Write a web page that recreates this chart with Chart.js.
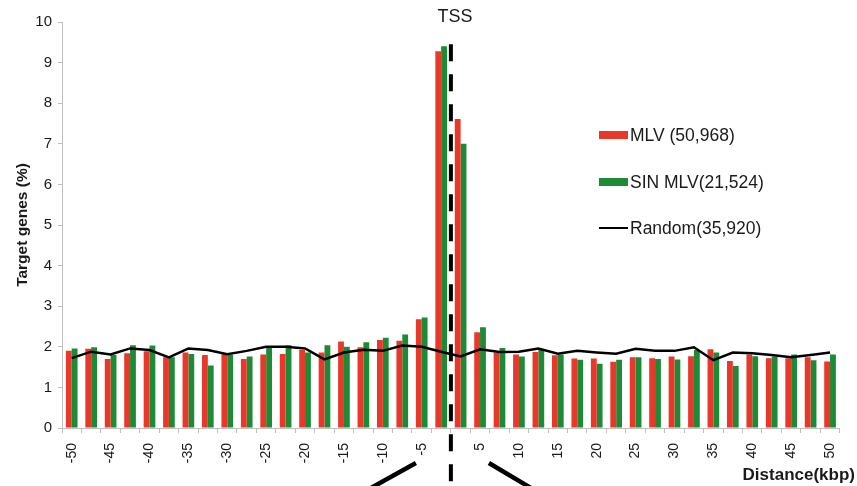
<!DOCTYPE html>
<html>
<head>
<meta charset="utf-8">
<title>Target genes around TSS</title>
<script src="https://cdn.jsdelivr.net/npm/chart.js@4.4.1/dist/chart.umd.min.js"></script>
<style>
  html, body { margin: 0; padding: 0; background: #fff; }
  #wrap { width: 857px; height: 486px; }
</style>
</head>
<body>
<div id="wrap"><canvas id="tssChart" width="857" height="486"></canvas></div>
<script>
'use strict';

/* ── DATA ─────────────────────────────────────────────────── */
const distances = [
  -50, -47.5, -45, -42.5, -40, -37.5, -35, -32.5, -30, -27.5,
  -25, -22.5, -20, -17.5, -15, -12.5, -10, -7.5, -5, -2.5,
  2.5, 5, 7.5, 10, 12.5, 15, 17.5, 20, 22.5, 25,
  27.5, 30, 32.5, 35, 37.5, 40, 42.5, 45, 47.5, 50
];

const tickLabels = ['-50', '-45', '-40', '-35', '-30', '-25', '-20', '-15', '-10', '-5',
                    '5', '10', '15', '20', '25', '30', '35', '40', '45', '50'];

const mlv = [
  1.90, 1.95, 1.70, 1.84, 1.89, 1.74, 1.86, 1.80, 1.84, 1.70,
  1.81, 1.82, 1.92, 1.86, 2.13, 1.99, 2.17, 2.15, 2.68, 9.28,
  7.61, 2.36, 1.86, 1.81, 1.87, 1.79, 1.71, 1.71, 1.63, 1.74,
  1.72, 1.76, 1.77, 1.94, 1.65, 1.81, 1.72, 1.72, 1.74, 1.64
];

const sinMlv = [
  1.96, 1.99, 1.80, 2.04, 2.03, 1.74, 1.82, 1.54, 1.80, 1.76,
  2.00, 2.04, 1.86, 2.04, 2.00, 2.11, 2.22, 2.30, 2.72, 9.40,
  7.00, 2.48, 1.97, 1.76, 1.92, 1.81, 1.68, 1.58, 1.68, 1.74,
  1.70, 1.69, 1.92, 1.86, 1.53, 1.77, 1.76, 1.81, 1.67, 1.81
];

const random = [
  1.72, 1.88, 1.81, 1.96, 1.92, 1.74, 1.96, 1.92, 1.82, 1.90,
  2.00, 2.00, 1.96, 1.69, 1.86, 1.93, 1.90, 2.03, 2.00, 1.88,
  1.76, 1.94, 1.87, 1.88, 1.96, 1.83, 1.90, 1.86, 1.83, 1.95,
  1.90, 1.90, 1.99, 1.67, 1.86, 1.84, 1.80, 1.74, 1.80, 1.86
];

const seriesNames = ['MLV (50,968)', 'SIN MLV(21,524)', 'Random(35,920)'];
const tssBetween  = [-2.5, 2.5];   // TSS sits between these two bins
const tssTop      = 9.45;          // dashed marker starts at this y value

/* ── STYLE ────────────────────────────────────────────────── */
const FONT   = "'Liberation Sans', Arial, Helvetica, sans-serif";
const RED    = '#E8382A';
const GREEN  = '#1D8B35';
const AXIS   = '#BFBFBF';
const TEXT   = '#1a1a1a';

/* ── ANNOTATIONS: TSS marker, legend, axis caption ───────── */
const tssMarks = {
  id: 'tssMarks',
  afterDraw(chart) {
    const { ctx, scales: { x, y } } = chart;
    const i  = distances.indexOf(tssBetween[0]);
    const tx = (x.getPixelForValue(i) + x.getPixelForValue(i + 1)) / 2;
    const H  = chart.height;

    ctx.save();
    ctx.strokeStyle = '#000';

    // dashed TSS line
    ctx.lineWidth = 4;
    ctx.setLineDash([17, 13]);
    ctx.beginPath();
    ctx.moveTo(tx, y.getPixelForValue(tssTop));
    ctx.lineTo(tx, H);
    ctx.stroke();
    ctx.setLineDash([]);

    // zoom-out wedge lines under the axis
    ctx.lineWidth = 4.5;
    ctx.beginPath();
    ctx.moveTo(tx - 35, 463);
    ctx.lineTo(tx - 80, H + 2);
    ctx.moveTo(tx + 38, 463);
    ctx.lineTo(tx + 80, H + 2);
    ctx.stroke();

    // TSS label
    ctx.fillStyle = TEXT;
    ctx.font = `18px ${FONT}`;
    ctx.textAlign = 'center';
    ctx.textBaseline = 'middle';
    ctx.fillText('TSS', tx + 4, 17);

    // legend (bars first, then line)
    const rows = [135, 182, 228];
    const lx = 599, lw = 29;
    ctx.font = `17.5px ${FONT}`;
    ctx.textAlign = 'left';
    chart.data.datasets.forEach((ds, k) => {
      const ry = rows[k];
      if (ds.type === 'line') {
        ctx.fillStyle = '#000';
        ctx.fillRect(lx, ry - 1, lw, 2);
      } else {
        ctx.fillStyle = ds.backgroundColor;
        ctx.fillRect(lx, ry - 4, lw, 8);
      }
      ctx.fillStyle = TEXT;
      ctx.fillText(ds.label, lx + lw + 2, ry + 1);
    });

    // x axis caption
    ctx.font = `bold 17px ${FONT}`;
    ctx.textAlign = 'right';
    ctx.textBaseline = 'alphabetic';
    ctx.fillText('Distance(kbp)', 855, 480);
    ctx.restore();
  }
};

/* ── CHART ────────────────────────────────────────────────── */
new Chart(document.getElementById('tssChart'), {
  type: 'bar',
  data: {
    labels: distances,
    datasets: [
      { label: seriesNames[0], data: mlv, order: 1, backgroundColor: RED, borderWidth: 0,
        categoryPercentage: 0.6, barPercentage: 1 },
      { label: seriesNames[1], data: sinMlv, order: 2, backgroundColor: GREEN, borderWidth: 0,
        categoryPercentage: 0.6, barPercentage: 1 },
      { type: 'line', label: seriesNames[2], data: random, order: 0,
        borderColor: '#000', borderWidth: 2.5, pointRadius: 0, fill: false, tension: 0 },
    ]
  },
  options: {
    responsive: false,
    animation: false,
    events: [],
    layout: { padding: { top: 22, right: 12, bottom: 0, left: 0 } },
    plugins: {
      legend:  { display: false },
      tooltip: { enabled: false },
    },
    scales: {
      x: {
        afterFit: s => { s.height = 58; },
        grid:   { drawOnChartArea: false, color: AXIS, tickLength: 5 },
        border: { color: AXIS },
        ticks: {
          autoSkip: false, minRotation: 90, maxRotation: 90, padding: 10,
          color: TEXT, font: { family: FONT, size: 14 },
          callback: function (v) {
            const lbl = String(distances[v]);
            return tickLabels.includes(lbl) ? lbl : '';
          }
        }
      },
      y: {
        min: 0, max: 10,
        afterFit: s => { s.width = 62; },
        grid:   { drawOnChartArea: false, color: AXIS, tickLength: 4 },
        border: { color: AXIS },
        ticks:  { stepSize: 1, padding: 6, color: TEXT, font: { family: FONT, size: 15 } },
        title: {
          display: true, text: 'Target genes (%)', color: TEXT,
          font: { family: FONT, size: 15.5, weight: 'bold' },
          padding: { top: 13, bottom: 0 }
        }
      }
    }
  },
  plugins: [tssMarks]
});
</script>
</body>
</html>
